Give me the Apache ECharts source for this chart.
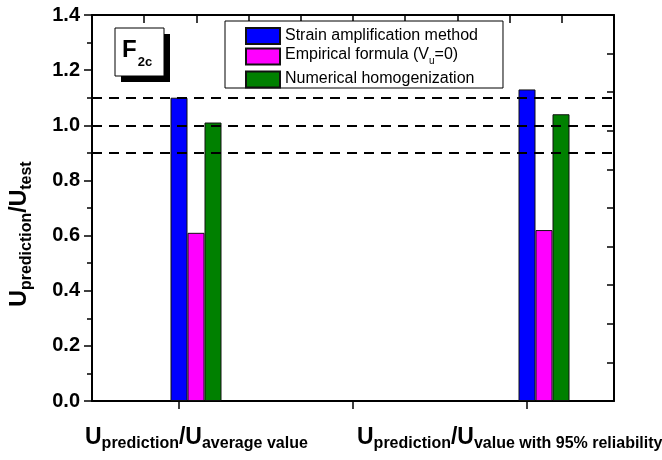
<!DOCTYPE html>
<html>
<head>
<meta charset="utf-8">
<script src="https://cdn.jsdelivr.net/npm/echarts@6/dist/echarts.min.js"></script>
<style>
  html, body { margin: 0; padding: 0; background: #fff; }
  #chart { width: 662px; height: 460px; }
</style>
</head>
<body>
<div id="chart"></div>
<script>
// ---- data ----
const xCategories = ['average value', '', 'value with 95% reliability'];
const groupPositions = [1, 3];           // category slots that carry bars
const seriesNames = ['Strain amplification method', 'Empirical formula (V_u=0)', 'Numerical homogenization'];
const strainValues = [1.10, 1.13];
const empiricalValues = [0.61, 0.62];
const homogenizationValues = [1.01, 1.04];
const referenceLines = [0.9, 1.0, 1.1];
const yMin = 0, yMax = 1.4, yStep = 0.2;
const panelTag = { main: 'F', sub: '2c' };

// ---- layout ----
const FONT = "'Liberation Sans', Arial, Helvetica, sans-serif";
const gridBox = { left: 92, top: 15, width: 522, height: 386 };
const barW = 17;
const slotPx = gridBox.width / xCategories.length;
const barShift = barW / slotPx;   // first bar of each group sits centred on its tick

const colors = ['#0000ff', '#ff00ff', '#008000'];
const valueSets = [strainValues, empiricalValues, homogenizationValues];

function pairs(vals) {
  return vals.map((v, i) => [groupPositions[i], v]);
}

const series = valueSets.map((vals, k) => ({
  name: seriesNames[k],
  type: 'bar',
  xAxisIndex: 1,
  yAxisIndex: 0,
  barWidth: barW,
  barGap: '0%',
  data: pairs(vals),
  itemStyle: { color: colors[k], borderColor: '#111', borderWidth: 1 },
  emphasis: { disabled: true },
  silent: true
}));

series[0].markLine = {
  silent: true,
  symbol: 'none',
  label: { show: false },
  lineStyle: { color: '#000', width: 2, type: [10, 7] },
  data: referenceLines.map(v => ({ yAxis: v })),
  z: 10
};

// "U_prediction / U_xxx" caption, subscripts pushed down by top padding
function ratioRich(sub) {
  return {
    text: '{m|U}{s|prediction}{m|/U}{s|' + sub + '}',
    rich: {
      m: { fontFamily: FONT, fontWeight: 'bold', fontSize: 23, lineHeight: 23, verticalAlign: 'top', fill: '#000' },
      s: { fontFamily: FONT, fontWeight: 'bold', fontSize: 16, lineHeight: 26, verticalAlign: 'top', fill: '#000', padding: [10, 0, 0, 0] }
    }
  };
}

const xl1 = ratioRich(xCategories[0]);
const xl2 = ratioRich(xCategories[2]);
const yTitle = ratioRich('test');

const legendText = {
  fontFamily: FONT,
  fontSize: 16,
  color: '#000',
  rich: {
    t: { fontFamily: FONT, fontSize: 16, color: '#000', lineHeight: 17, verticalAlign: 'top' },
    u: { fontFamily: FONT, fontSize: 10, color: '#000', lineHeight: 19, verticalAlign: 'top', padding: [9, 0, 0, 0] }
  }
};
function legendLabel(name) {
  if (name.indexOf('V_u') >= 0) {
    const parts = name.split('V_u');
    return '{t|' + parts[0] + 'V}{u|u}{t|' + parts[1] + '}';
  }
  return '{t|' + name + '}';
}
const legendCommon = {
  orient: 'vertical',
  itemWidth: 34,
  itemHeight: 16,
  itemGap: 2,
  icon: 'rect',
  selectedMode: false,
  formatter: legendLabel,
  textStyle: legendText
};

const option = {
  animation: false,
  backgroundColor: '#fff',
  grid: { left: gridBox.left, top: gridBox.top, width: gridBox.width, height: gridBox.height, containLabel: false },
  legend: [
    Object.assign({}, legendCommon, {
      left: 225,
      top: 21,
      padding: [6, 25, 22, 20],
      borderColor: '#000',
      borderWidth: 1,
      backgroundColor: '#fff',
      data: seriesNames.slice(0, 2),
      z: 4
    }),
    Object.assign({}, legendCommon, {
      left: 245,
      top: 70.5,
      padding: 0,
      data: seriesNames.slice(2),
      z: 5
    })
  ],
  xAxis: [
    {
      type: 'category',
      data: xCategories,
      position: 'bottom',
      boundaryGap: true,
      axisLine: { show: true, lineStyle: { color: '#000', width: 2 } },
      axisTick: { show: true, alignWithLabel: true, inside: false, length: 8, lineStyle: { color: '#000', width: 1.5 } },
      axisLabel: { show: false },
      splitLine: { show: false }
    },
    {
      type: 'value',
      min: 0.5 - barShift,
      max: 3.5 - barShift,
      show: false,
      splitLine: { show: false }
    },
    {
      type: 'value',
      position: 'top',
      min: 0,
      max: 10,
      interval: 1,
      axisLine: { show: true, onZero: false, lineStyle: { color: '#000', width: 2 } },
      axisTick: { show: true, inside: true, length: 8, lineStyle: { color: '#000', width: 1.5 } },
      axisLabel: { show: false },
      splitLine: { show: false }
    }
  ],
  yAxis: [
    {
      type: 'value',
      min: yMin,
      max: yMax,
      interval: yStep,
      position: 'left',
      axisLine: { show: true, onZero: false, lineStyle: { color: '#000', width: 2 } },
      axisTick: { show: true, inside: false, length: 8, lineStyle: { color: '#000', width: 1.5 } },
      minorTick: { show: true, splitNumber: 2, length: 5, lineStyle: { color: '#000', width: 1.5 } },
      axisLabel: {
        show: true,
        margin: 12,
        fontFamily: FONT,
        fontWeight: 'bold',
        fontSize: 20,
        color: '#000',
        formatter: v => v.toFixed(1)
      },
      splitLine: { show: false }
    },
    {
      type: 'value',
      min: yMin,
      max: yMax,
      interval: 0.14,
      position: 'right',
      axisLine: { show: true, onZero: false, lineStyle: { color: '#000', width: 2 } },
      axisTick: { show: true, inside: true, length: 7, lineStyle: { color: '#000', width: 1.5 } },
      axisLabel: { show: false },
      splitLine: { show: false }
    }
  ],
  series: series,
  graphic: [
    // panel tag with drop shadow
    { type: 'rect', left: 121, top: 34, shape: { width: 49, height: 48 }, style: { fill: '#000' }, z: 20 },
    { type: 'rect', left: 114.5, top: 27.5, shape: { width: 49, height: 48 }, style: { fill: '#fff', stroke: '#000', lineWidth: 1 }, z: 21 },
    {
      type: 'text', x: 122, y: 28, z: 22,
      style: {
        text: '{f|' + panelTag.main + '}{s|' + panelTag.sub + '}',
        textVerticalAlign: 'top', verticalAlign: 'top',
        rich: {
          f: { fontFamily: FONT, fontWeight: 'bold', fontSize: 24, verticalAlign: 'top', fill: '#000', padding: [10, 0, 0, 0] },
          s: { fontFamily: FONT, fontWeight: 'bold', fontSize: 13, verticalAlign: 'top', fill: '#000', padding: [28, 0, 0, 1] }
        }
      }
    },
    // category captions
    { type: 'text', x: 85, y: 426, style: Object.assign({ textAlign: 'left', align: 'left', textVerticalAlign: 'top', verticalAlign: 'top' }, xl1) },
    { type: 'text', x: 357, y: 426, style: Object.assign({ textAlign: 'left', align: 'left', textVerticalAlign: 'top', verticalAlign: 'top' }, xl2) },
    // value-axis title, reading bottom to top
    { type: 'text', x: 8.5, y: 234, rotation: Math.PI / 2, style: Object.assign({ textAlign: 'center', align: 'center', textVerticalAlign: 'top', verticalAlign: 'top' }, yTitle) }
  ]
};

const chart = echarts.init(document.getElementById('chart'), null, { renderer: 'canvas' });
chart.setOption(option);
</script>
</body>
</html>
